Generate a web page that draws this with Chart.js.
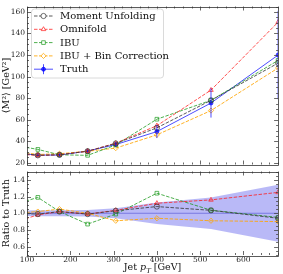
<!DOCTYPE html>
<html>
<head>
<meta charset="utf-8">
<script src="https://cdn.jsdelivr.net/npm/chart.js@4.4.0/dist/chart.umd.min.js"></script>
<style>
  html, body { margin: 0; padding: 0; background: #fff; }
  #wrap { position: relative; width: 283px; height: 274px; overflow: hidden; }
  canvas { position: absolute; left: 0; }
  #topChart { top: 0; }
  #ratioChart { top: 165px; }
</style>
</head>
<body>
<div id="wrap">
  <canvas id="topChart" width="283" height="171"></canvas>
  <canvas id="ratioChart" width="283" height="109"></canvas>
</div>
<script>
/* ===== data ===== */

const seriesNames = ["Moment Unfolding", "Omnifold", "IBU", "IBU + Bin Correction", "Truth"];

const jetPt = [75, 125, 175, 240, 305, 400, 525, 680];

const momentM2   = [29.5, 27.0, 27.5, 30.8, 38.0, 52.5, 78.0, 112.5];
const omnifoldM2 = [28.5, 26.8, 27.6, 30.8, 38.3, 54.5, 87.5, 150.5];
const ibuM2      = [36.0, 32.5, 27.5, 27.0, 36.6, 60.5, 78.0, 115.0];
const ibuBinM2   = [30.5, 27.8, 28.5, 30.8, 33.7, 46.0, 68.5, 108.0];
const truthM2    = [29.0, 27.3, 27.2, 31.0, 37.0, 49.0, 75.5, 120.0];
const truthErr   = [1.0, 1.0, 1.0, 1.2, 2.2, 6.0, 13.5, 41.0];

const momentRatio   = [1.00, 0.99, 1.02, 0.99, 1.03, 1.08, 1.035, 0.94];
const omnifoldRatio = [0.90, 0.98, 1.02, 0.99, 1.035, 1.12, 1.16, 1.25];
const ibuRatio      = [1.11, 1.19, 1.02, 0.87, 0.99, 1.24, 1.036, 0.95];
const ibuBinRatio   = [1.00, 1.02, 1.05, 1.00, 0.91, 0.94, 0.91, 0.90];
const truthRatio    = [1, 1, 1, 1, 1, 1, 1, 1];
const truthRelErr   = [0.03, 0.035, 0.035, 0.04, 0.06, 0.13, 0.19, 0.34];

const xTicks = [100, 200, 300, 400, 500, 600];
const yTicksTop = [20, 40, 60, 80, 100, 120, 140, 160];
const yTicksRatio = [0.6, 0.8, 1.0, 1.2, 1.4];

/* ===== styles ===== */

const styles = [
  { color: "rgba(60,60,60,0.85)",  point: "circle",   dash: [3.5, 1.5] },
  { color: "rgba(255,20,20,0.75)", point: "triangle", dash: [3.5, 1.5] },
  { color: "rgba(20,150,20,0.75)", point: "rect",     dash: [3.5, 1.5] },
  { color: "rgba(255,165,0,0.85)", point: "rectRot",  dash: [3.5, 1.5] },
  { color: "rgba(0,0,255,0.7)",    point: "circle",   dash: [] }
];

const FONT = "DejaVu Serif";

function pts(ys) {
  return jetPt.map((x, i) => ({ x: x, y: ys[i] }));
}

function lineSet(label, ys, st, filled) {
  return {
    label: label,
    data: pts(ys),
    borderColor: st.color,
    borderWidth: 1,
    borderDash: st.dash,
    pointStyle: st.point,
    pointRadius: filled ? 2 : 2.6,
    pointBorderWidth: 0.9,
    pointBorderColor: st.color,
    pointBackgroundColor: filled ? st.color : "rgba(0,0,0,0)",
    fill: false,
    tension: 0
  };
}

/* ===== frame + inward ticks ===== */

function isMajor(v, step) {
  const r = v / step;
  return Math.abs(r - Math.round(r)) < 1e-6;
}

const frameTicks = {
  id: "frameTicks",
  afterDatasetsDraw(chart, args, o) {
    const { ctx, chartArea: a } = chart;
    const xs = chart.scales.x, ys = chart.scales.y;
    ctx.save();
    ctx.strokeStyle = "#444";
    ctx.lineWidth = 0.8;
    ctx.beginPath();
    for (let i = 0; ; i++) {
      const v = xs.min + i * o.xMinor;
      if (v > xs.max + 1e-9) break;
      const px = Math.round(xs.getPixelForValue(v)) + 0.5;
      const len = isMajor(v, o.xMajor) ? 4 : 2;
      ctx.moveTo(px, a.bottom); ctx.lineTo(px, a.bottom - len);
      ctx.moveTo(px, a.top); ctx.lineTo(px, a.top + len);
    }
    const start = Math.ceil(ys.min / o.yMinor - 1e-9) * o.yMinor;
    for (let i = 0; ; i++) {
      const v = start + i * o.yMinor;
      if (v > ys.max + 1e-9) break;
      const py = Math.round(ys.getPixelForValue(v)) + 0.5;
      const len = isMajor(v, o.yMajor) ? 4 : 2;
      ctx.moveTo(a.left, py); ctx.lineTo(a.left + len, py);
      ctx.moveTo(a.right, py); ctx.lineTo(a.right - len, py);
    }
    ctx.stroke();
    ctx.strokeStyle = "#333";
    ctx.strokeRect(Math.round(a.left) + 0.5, Math.round(a.top) + 0.5,
      Math.round(a.right - a.left), Math.round(a.bottom - a.top));
    ctx.restore();
  }
};

/* ===== truth error bars ===== */

const errorBars = {
  id: "errorBars",
  afterDatasetsDraw(chart) {
    const { ctx, chartArea: a } = chart;
    const xs = chart.scales.x, ys = chart.scales.y;
    ctx.save();
    ctx.beginPath();
    ctx.rect(a.left, a.top, a.right - a.left, a.bottom - a.top);
    ctx.clip();
    ctx.strokeStyle = styles[4].color;
    ctx.lineWidth = 1;
    ctx.beginPath();
    jetPt.forEach((x, i) => {
      const px = xs.getPixelForValue(x);
      ctx.moveTo(px, ys.getPixelForValue(truthM2[i] - truthErr[i]));
      ctx.lineTo(px, ys.getPixelForValue(truthM2[i] + truthErr[i]));
    });
    ctx.stroke();
    ctx.restore();
  }
};

/* ===== legend box ===== */

const legendBox = {
  id: "legendBox",
  afterDraw(chart) {
    const { ctx, chartArea: a } = chart;
    const x0 = a.left + 4, y0 = a.top + 2, w = 132, h = 69;
    ctx.save();
    ctx.beginPath();
    ctx.roundRect(x0 + 0.5, y0 + 0.5, w, h, 3);
    ctx.fillStyle = "rgba(255,255,255,0.85)";
    ctx.fill();
    ctx.strokeStyle = "#d0d0d0";
    ctx.lineWidth = 0.8;
    ctx.stroke();

    ctx.font = "10px " + FONT;
    ctx.textBaseline = "middle";
    seriesNames.forEach((name, i) => {
      const st = styles[i];
      const y = y0 + 7.5 + i * 13.3;
      const cx = x0 + 12.5;
      ctx.strokeStyle = st.color;
      ctx.lineWidth = 1;
      ctx.setLineDash(st.dash);
      ctx.beginPath();
      ctx.moveTo(x0 + 3, y); ctx.lineTo(x0 + 22, y);
      ctx.stroke();
      ctx.setLineDash([]);
      if (i === 4) {
        ctx.beginPath();
        ctx.moveTo(cx, y - 5); ctx.lineTo(cx, y + 5);
        ctx.stroke();
      }
      ctx.fillStyle = i === 4 ? st.color : "#fff";
      ctx.lineWidth = 0.9;
      Chart.helpers.drawPoint(ctx, {
        pointStyle: st.point, radius: i === 4 ? 2 : 2.6, rotation: 0, borderWidth: 0.9
      }, cx, y);
      ctx.fillStyle = "#111";
      ctx.fillText(name, x0 + 29, y + 0.5);
    });
    ctx.restore();
  }
};

/* ===== x title with italic p_T ===== */

const xTitle = {
  id: "xTitle",
  afterDraw(chart) {
    const { ctx, chartArea: a } = chart;
    const parts = [
      ["Jet ", "9.5px " + FONT, 0],
      ["p", "italic 9.5px " + FONT, 0],
      ["T", "italic 7px " + FONT, 2.5],
      [" [GeV]", "9.5px " + FONT, 0]
    ];
    ctx.save();
    ctx.fillStyle = "#111";
    ctx.textBaseline = "alphabetic";
    let total = 0;
    parts.forEach(p => { ctx.font = p[1]; total += ctx.measureText(p[0]).width; });
    let x = (a.left + a.right) / 2 - total / 2;
    const y = chart.height - 4;
    parts.forEach(p => {
      ctx.font = p[1];
      ctx.fillText(p[0], x, y + p[2]);
      x += ctx.measureText(p[0]).width;
    });
    ctx.restore();
  }
};

/* ===== shared scale builders ===== */

function xScale(showLabels) {
  return {
    type: "linear",
    min: 100,
    max: 680,
    display: showLabels,
    afterBuildTicks: s => { s.ticks = xTicks.map(v => ({ value: v })); },
    afterFit: s => { if (showLabels) s.height = 19; },
    grid: { display: false, drawTicks: false },
    border: { display: false },
    ticks: {
      autoSkip: false,
      maxRotation: 0,
      padding: 1,
      color: "#222",
      font: { family: FONT, size: 7.5 }
    }
  };
}

function yScale(min, max, tickVals, title, fmt) {
  return {
    type: "linear",
    min: min,
    max: max,
    afterBuildTicks: s => { s.ticks = tickVals.map(v => ({ value: v })); },
    afterFit: s => { s.width = 27; },
    grid: { display: false, drawTicks: false },
    border: { display: false },
    title: {
      display: true,
      text: title,
      color: "#111",
      padding: { top: 1, bottom: 0 },
      font: { family: FONT, size: 9.5 }
    },
    ticks: {
      padding: 2,
      color: "#222",
      font: { family: FONT, size: 7.5 },
      callback: fmt
    }
  };
}

/* ===== top chart ===== */

const topChart = new Chart(document.getElementById("topChart"), {
  type: "line",
  data: {
    datasets: [
      lineSet(seriesNames[0], momentM2, styles[0], false),
      lineSet(seriesNames[1], omnifoldM2, styles[1], false),
      lineSet(seriesNames[2], ibuM2, styles[2], false),
      lineSet(seriesNames[3], ibuBinM2, styles[3], false),
      lineSet(seriesNames[4], truthM2, styles[4], true)
    ]
  },
  options: {
    responsive: false,
    animation: false,
    devicePixelRatio: 1,
    layout: { padding: { top: 5, right: 3, bottom: 0, left: 0 } },
    plugins: {
      legend: { display: false },
      tooltip: { enabled: false },
      frameTicks: { xMinor: 20, xMajor: 100, yMinor: 5, yMajor: 20 }
    },
    scales: {
      x: xScale(false),
      y: yScale(18.5, 165, yTicksTop, "\u27E8M\u00B2\u27E9 [GeV\u00B2]", v => String(v))
    }
  },
  plugins: [errorBars, frameTicks, legendBox]
});

/* ===== ratio chart ===== */

const bandHi = truthRatio.map((r, i) => r + truthRelErr[i]);
const bandLo = truthRatio.map((r, i) => r - truthRelErr[i]);

const ratioChart = new Chart(document.getElementById("ratioChart"), {
  type: "line",
  data: {
    datasets: [
      lineSet(seriesNames[0], momentRatio, styles[0], false),
      lineSet(seriesNames[1], omnifoldRatio, styles[1], false),
      lineSet(seriesNames[2], ibuRatio, styles[2], false),
      lineSet(seriesNames[3], ibuBinRatio, styles[3], false),
      {
        label: "Truth",
        data: pts(truthRatio),
        borderColor: "rgba(40,40,200,0.45)",
        borderWidth: 1,
        pointRadius: 0,
        fill: false
      },
      {
        label: "band hi",
        data: pts(bandHi),
        borderWidth: 0,
        pointRadius: 0,
        fill: false
      },
      {
        label: "band lo",
        data: pts(bandLo),
        borderWidth: 0,
        pointRadius: 0,
        backgroundColor: "rgba(80,80,235,0.4)",
        fill: "-1"
      }
    ]
  },
  options: {
    responsive: false,
    animation: false,
    devicePixelRatio: 1,
    layout: { padding: { top: 6, right: 3, bottom: 0, left: 0 } },
    plugins: {
      legend: { display: false },
      tooltip: { enabled: false },
      frameTicks: { xMinor: 20, xMajor: 100, yMinor: 0.05, yMajor: 0.2 }
    },
    scales: {
      x: xScale(true),
      y: yScale(0.5, 1.5, yTicksRatio, "Ratio to Truth", v => v.toFixed(1))
    }
  },
  plugins: [frameTicks, xTitle]
});
</script>
</body>
</html>
